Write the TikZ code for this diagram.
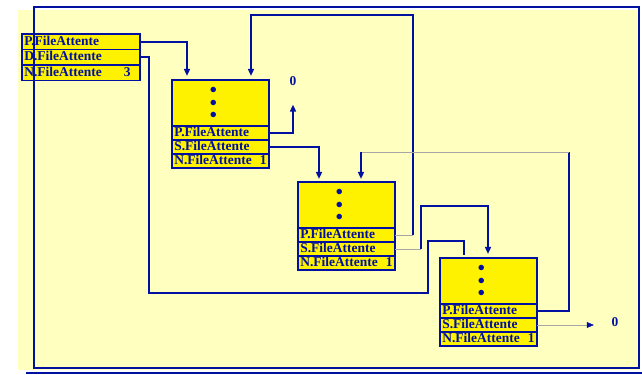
\documentclass[tikz,border=0pt]{standalone}
\usepackage{fontspec}
\setmainfont{Liberation Serif}
\usetikzlibrary{arrows.meta, positioning, calc}
\definecolor{navy}{RGB}{0,16,160}
\definecolor{paper}{RGB}{255,255,192}

\begin{document}
\begin{tikzpicture}[
    x=0.03cm, y=-0.03cm,
    font=\fontsize{11.5}{12}\selectfont\bfseries,
    fld/.style={rectangle, draw=navy, fill=yellow, line width=1.4pt,
                text=navy, minimum height=0.42cm, inner ysep=0pt, inner xsep=2pt,
                outer sep=0pt, text height=7.5pt, text depth=1.5pt,
                text width=#1, align=left},
    fld/.default=2.77cm,
    body/.style={rectangle, draw=navy, fill=yellow, line width=1.4pt,
                 outer sep=0pt, minimum width=2.91cm, minimum height=1.38cm},
    pts/.style={text=navy, align=center, inner sep=0pt},
    nil/.style={text=navy, inner sep=0pt},
    arr/.style={-{Triangle[length=6pt,width=5pt]}, navy, line width=1.6pt},
    lnk/.style={navy, line width=1.6pt},
    faint/.style={gray!70, line width=0.4pt},
    node distance=0pt
  ]

  \useasboundingbox (0,0) rectangle (642,375);
  \fill[paper] (18,10) rectangle (640,370);

  % tete de la file
  \node[fld=3.40cm, minimum height=0.465cm, anchor=north west] (tP) at (22,34) {P.FileAttente};
  \node[fld=3.40cm, minimum height=0.465cm, below=of tP] (tD) {D.FileAttente};
  \node[fld=3.40cm, minimum height=0.465cm, below=of tD] (tN) {N.FileAttente\hfill 3\hspace*{6pt}};

  % elements
  \foreach \e/\x/\y in {e1/172/80, e2/298/182, e3/440/258} {
    \node[body, anchor=north west] (\e) at (\x,\y) {};
    \node[pts] (\e v) at ($(\e.center)+(-7,0)$) {$\bullet$\\[-1.5pt]$\bullet$\\[-1.5pt]$\bullet$};
    \node[fld, below=of \e] (\e P) {P.FileAttente};
    \node[fld, below=of \e P] (\e S) {S.FileAttente};
    \node[fld, below=of \e S] (\e N) {N.FileAttente\hfill 1};
  }

  \node[nil] (nil1) at (293,81) {0};
  \node[nil] (nil2) at (615,322) {0};

  % cadre
  \draw[navy, line width=1.2pt] (34,7) rectangle (639,368);
  \draw[navy, line width=2.2pt] (26,373) -- (642,373);

  % pointeurs
  \draw[arr] (tP.east) -| ($(e1.north west)+(15,-4)$);
  \draw[lnk] (tD.east) -| ++(9,236) -| ++(279,-52) -| ($(e3.north west)+(24,-3)$);

  \draw[arr, shorten >=16pt] (e1P.east) -| (nil1.south);
  \draw[arr] (e1S.east) -| ($(e2.north west)+(21,-3)$);

  \draw[faint] (e2P.east) -- ++(18,0) coordinate (k1);
  \draw[arr] (k1) |- ($(e1.north west)+(79,-65)$) -- ($(e1.north west)+(79,-4)$);
  \draw[faint] (e2S.east) -- ++(26,0) coordinate (k2);
  \draw[arr] (k2) |- ($(e3.north west)+(48,-52)$) -- ($(e3.north west)+(48,-4)$);

  \draw[lnk] (e3P.east) -| ($(e3.north west)+(129,-106)$) coordinate (k3);
  \draw[faint] (k3) -- ++(-208,0) coordinate (k4);
  \draw[arr] (k4) -- ($(e2.north west)+(63,-3)$);
  \draw[faint, -{Triangle[length=6pt,width=5pt,color=navy]}, shorten >=15pt]
    (e3S.east) -- (e3S.east -| nil2.west);

\end{tikzpicture}
\end{document}
